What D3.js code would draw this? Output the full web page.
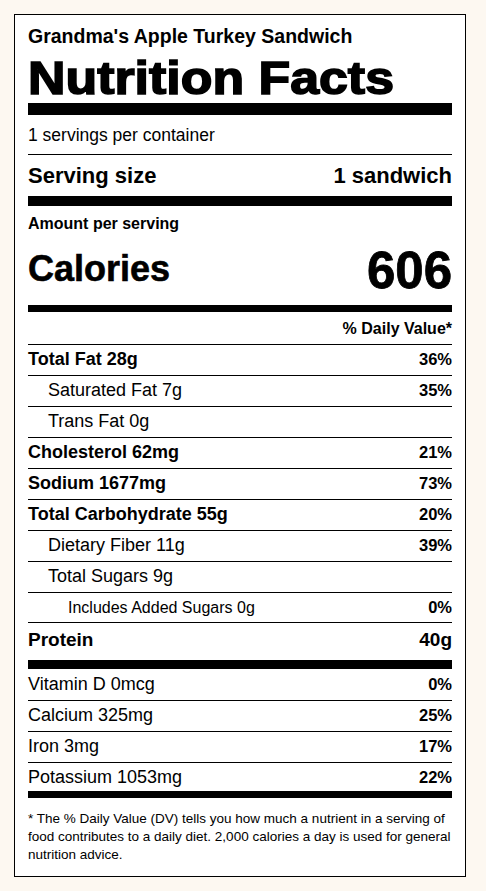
<!DOCTYPE html><html><head><meta charset="utf-8">
<script src="https://cdn.jsdelivr.net/npm/d3@7"></script>
<style>body{margin:0;background:#fdf8f1;}svg{display:block;font-family:"Liberation Sans",Arial,sans-serif;}</style></head><body>
<script>
const title="Grandma's Apple Turkey Sandwich";
const servings="1 servings per container";
const servingSize="1 sandwich";
const calories=606;
const nutrients=["Total Fat 28g","Saturated Fat 7g","Trans Fat 0g","Cholesterol 62mg","Sodium 1677mg","Total Carbohydrate 55g","Dietary Fiber 11g","Total Sugars 9g","Includes Added Sugars 0g"];
const nutrientDV=["36%","35%","","21%","73%","20%","39%","","0%"];
const nutrientLevel=[0,1,1,0,0,0,1,1,2];
const protein="40g";
const vitamins=["Vitamin D 0mcg","Calcium 325mg","Iron 3mg","Potassium 1053mg"];
const vitaminDV=["0%","25%","17%","22%"];
const footnote=["* The % Daily Value (DV) tells you how much a nutrient in a serving of","food contributes to a daily diet. 2,000 calories a day is used for general","nutrition advice."];

const W=486,H=891,L=28,R=452;
const svg=d3.select("body").append("svg").attr("width",W).attr("height",H);
svg.append("rect").attr("x",14.5).attr("y",14.5).attr("width",451).attr("height",862).attr("fill","#fff").attr("stroke","#000");
const t=(x,y,s,txt,o={})=>svg.append("text").attr("x",x).attr("y",y).attr("font-size",s).attr("font-weight",o.b?"bold":"normal").attr("text-anchor",o.a||"start").attr("fill","#000").text(txt);
const bar=(y,h)=>svg.append("rect").attr("x",L).attr("y",y).attr("width",R-L).attr("height",h).attr("fill","#000");
const line=y=>svg.append("line").attr("x1",L).attr("x2",R).attr("y1",y+.5).attr("y2",y+.5).attr("stroke","#000");

t(L,43,19.5,title,{b:1});
t(L,94,47,"Nutrition Facts",{b:1}).attr("stroke","#000").attr("stroke-width",1.6).attr("textLength",366).attr("lengthAdjust","spacingAndGlyphs");
bar(103,12);
t(L,141,17.5,servings);
line(154);
t(L,183,22,"Serving size",{b:1});
t(R,183,22,servingSize,{b:1,a:"end"});
bar(196,10);
t(L,229,16,"Amount per serving",{b:1});
t(L,281,36,"Calories",{b:1}).attr("stroke","#000").attr("stroke-width",0.6);
t(R,288,51,calories,{b:1,a:"end"}).attr("stroke","#000").attr("stroke-width",0.8);
bar(305,7);
t(R,334,16,"% Daily Value*",{b:1,a:"end"});
line(344);
const y=d3.scaleLinear().domain([0,1]).range([344,375]);
nutrients.forEach((n,i)=>{
  const by=y(i+1)-10;
  t(L+20*nutrientLevel[i],by,nutrientLevel[i]===2?16:18,n,{b:nutrientLevel[i]===0});
  if(nutrientDV[i])t(R,by,16.5,nutrientDV[i],{b:1,a:"end"});
  line(y(i+1)-(i===8?1:0));
});
t(L,646,19,"Protein",{b:1});
t(R,646,19,protein,{b:1,a:"end"});
bar(660,9);
const yv=d3.scaleLinear().domain([0,1]).range([669,700]);
vitamins.forEach((v,i)=>{
  const by=yv(i+1)-10;
  t(L,by,18,v);
  t(R,by,16.5,vitaminDV[i],{b:1,a:"end"});
  if(i<3)line(yv(i+1));
});
bar(791,7);
footnote.forEach((f,i)=>t(L,823+i*18,13.5,f));
</script></body></html>
